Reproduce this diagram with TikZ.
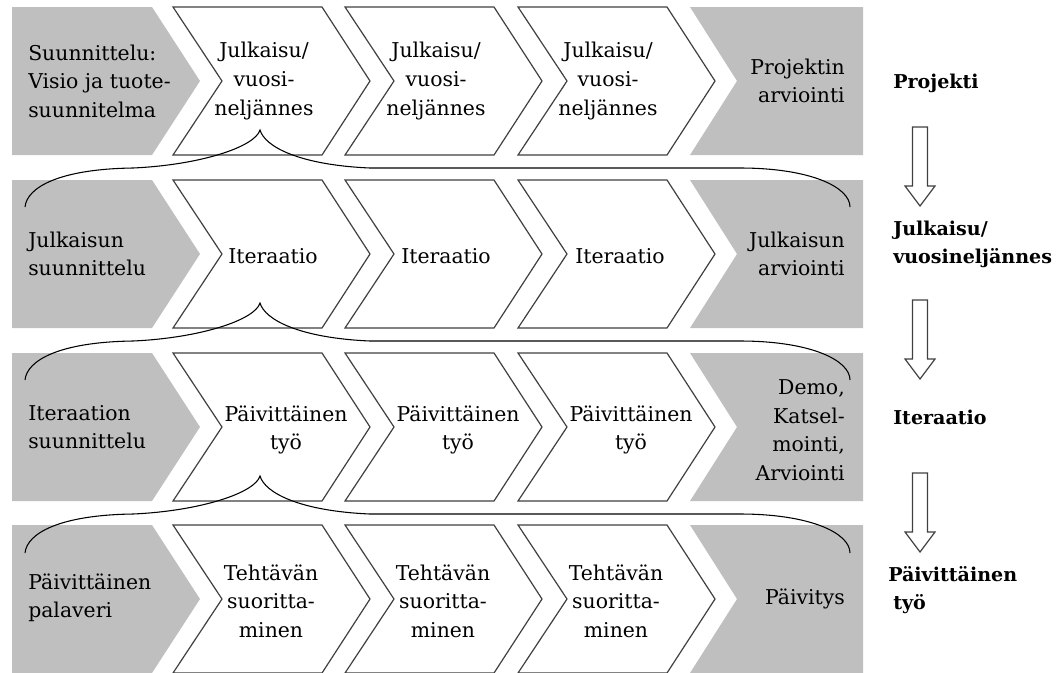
\documentclass[tikz,border=0pt]{standalone}
\usepackage{fontspec}
\setmainfont{DejaVu Serif}
\usetikzlibrary{calc}
\colorlet{boxgray}{black!25}
\colorlet{edgecol}{black!75}
\tikzset{chevline/.style = {draw=edgecol, line width=0.9pt, fill=white, line join=miter}}
\tikzset{steptext/.style = {inner sep=0pt, align=center, font=\fontsize{15.3}{21.4}\selectfont}}
\tikzset{sidetext/.style = {inner sep=0pt, font=\fontsize{15.3}{21.4}\selectfont}}
\tikzset{levellabel/.style = {anchor=west, inner sep=0pt, align=left,
    font=\bfseries\fontsize{14.3}{21}\selectfont}}
\tikzset{downarrow/.pic = {\draw[edgecol, line width=0.9pt, fill=white]
    (-7.5,0) -- (7.5,0) -- (7.5,59) -- (15,59) -- (0,79) -- (-15,59)
    -- (-7.5,59) -- cycle;}}
\tikzset{bracket/.style = {draw, line width=0.8pt}}

\begin{document}
\begin{tikzpicture}[x=0.75pt, y=-0.75pt]
\useasboundingbox (0,0) rectangle (1062,672);

% nuolilaatikot
\foreach \y in {7,180,353,525} {
  \fill[boxgray] (12,\y) -- (152,\y) -- (200,\y+74) -- (152,\y+148) -- (12,\y+148) -- cycle;
  \fill[boxgray] (690,\y) -- (863,\y) -- (863,\y+148) -- (690,\y+148) -- (737,\y+74) -- cycle;
  \foreach \x in {173,345,518}
    \draw[chevline] (\x,\y) -- (\x+149,\y) -- (\x+197,\y+74) -- (\x+149,\y+148)
      -- (\x,\y+148) -- (\x+49,\y+74) -- cycle;
}

% projekti
\node[sidetext, anchor=west, align=left] (s1) at (28,81) {Suunnittelu:\\Visio ja tuote-\\suunnitelma};
\node[steptext] (c11) at (264,81) {Julkaisu/\\vuosi-\\neljännes};
\node[steptext] (c12) at (436,81) {Julkaisu/\\vuosi-\\neljännes};
\node[steptext] (c13) at (608,81) {Julkaisu/\\vuosi-\\neljännes};
\node[sidetext, anchor=east, align=right] (e1) at (845,81) {Projektin\\arviointi};

% julkaisu
\node[sidetext, anchor=west, align=left] (s2) at (28,254) {Julkaisun\\suunnittelu};
\node[steptext] (c21) at (273,256) {Iteraatio};
\node[steptext] (c22) at (446,256) {Iteraatio};
\node[steptext] (c23) at (620,256) {Iteraatio};
\node[sidetext, anchor=east, align=right] (e2) at (845,254) {Julkaisun\\arviointi};

% iteraatio
\node[sidetext, anchor=west, align=left] (s3) at (28,427) {Iteraation\\suunnittelu};
\node[steptext] (c31) at (286,430) {Päivittäinen\\työ};
\node[steptext] (c32) at (458,430) {Päivittäinen\\työ};
\node[steptext] (c33) at (631,430) {Päivittäinen\\työ};
\node[sidetext, anchor=east, align=right] (e3) at (845,430) {Demo,\\Katsel-\\mointi,\\Arviointi};

% paivittainen tyo
\node[sidetext, anchor=west, align=left] (s4) at (28,598) {Päivittäinen\\palaveri};
\node[steptext] (c41) at (271,601) {Tehtävän\\suoritta-\\minen};
\node[steptext] (c42) at (443,601) {Tehtävän\\suoritta-\\minen};
\node[steptext] (c43) at (616,601) {Tehtävän\\suoritta-\\minen};
\node[sidetext, anchor=east, align=right] (e4) at (845,599) {Päivitys};

% aaltosulkeet
\foreach \y in {7,180,353}
  \draw[bracket] (25,\y+200) .. controls (27,\y+180) and (60,\y+162) .. (133,\y+161)
    .. controls (200,\y+158) and (255,\y+140) .. (260,\y+123)
    .. controls (265,\y+140) and (300,\y+158) .. (370,\y+161) -- (740,\y+161)
    .. controls (810,\y+161) and (850,\y+180) .. (850,\y+200);

% tasot
\node[levellabel] (l1) at (893,83) {Projekti};
\node[levellabel] (l2) at (893,244) {Julkaisu/\\vuosineljännes};
\node[levellabel] (l3) at (893,417) {Iteraatio};
\node[levellabel] (l4) at (888,590) {Päivittäinen\\\hspace*{3.75pt}työ};
\pic at (920,127) {downarrow};
\pic at (920,300) {downarrow};
\pic at (920,473) {downarrow};
\end{tikzpicture}
\end{document}
